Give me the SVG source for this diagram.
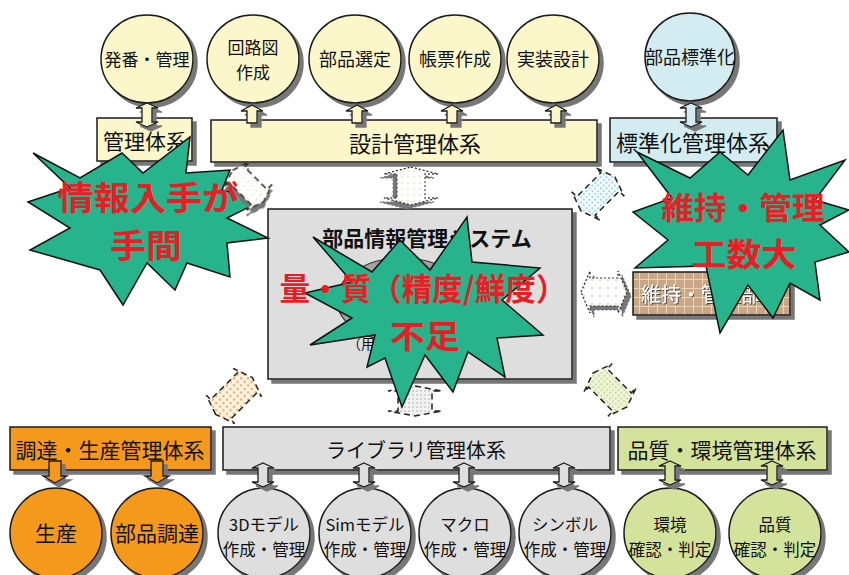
<svg xmlns="http://www.w3.org/2000/svg" width="849" height="575" viewBox="0 0 849 575">
<defs>
<style>
text{font-family:"Noto Sans CJK JP","Noto Sans",sans-serif;fill:#111;text-anchor:middle}
.nd{stroke:#1a1a1a;stroke-width:1.5}
.y{fill:#FBF7CB}.b{fill:#D2ECF2}.g{fill:#DEDEDE}.o{fill:#F5991F}.gr{fill:#D3E39C}
.star{fill:#27B38B;stroke:#111;stroke-width:1.5;stroke-linejoin:miter}
.red{fill:#EC1C24;font-weight:700}
.ar{stroke:#1a1a1a;stroke-width:1.3}
.da{stroke:#222;stroke-width:1.5;stroke-dasharray:6 4}
</style>
<filter id="sh" x="-20%" y="-20%" width="150%" height="150%"><feDropShadow dx="4" dy="4" stdDeviation="0.6" flood-color="#777" flood-opacity="1"/></filter>
<filter id="tsh" x="-5%" y="-20%" width="110%" height="150%"><feDropShadow dx="1" dy="1" stdDeviation="0.3" flood-color="#444" flood-opacity="1"/></filter>
<pattern id="pOr" width="5" height="5" patternUnits="userSpaceOnUse"><rect width="5" height="5" fill="#FFF6EA"/><circle cx="2.5" cy="2.5" r="1.2" fill="#F5A244"/></pattern>
<pattern id="pBl" width="4" height="4" patternUnits="userSpaceOnUse"><rect width="4" height="4" fill="#F4FBFD"/><circle cx="2" cy="2" r="1" fill="#8FCBE0"/></pattern>
<pattern id="pGy" width="4" height="4" patternUnits="userSpaceOnUse"><rect width="4" height="4" fill="#F2F2F2"/><circle cx="2" cy="2" r="1" fill="#C8C8C8"/></pattern>
<pattern id="pGn" width="4" height="4" patternUnits="userSpaceOnUse"><rect width="4" height="4" fill="#EEF5DA"/><circle cx="2" cy="2" r="1" fill="#BED68A"/></pattern>
<pattern id="pYw" width="6" height="6" patternUnits="userSpaceOnUse"><rect width="6" height="6" fill="#FFFFFF"/><circle cx="3" cy="3" r="1" fill="#F1E9B0"/></pattern>
<pattern id="pOr2" width="8" height="8" patternUnits="userSpaceOnUse"><rect width="8" height="8" fill="#FFFFFF"/><circle cx="4" cy="4" r="1.1" fill="#F8CFA0"/></pattern>
<pattern id="pBr" width="9" height="9" patternUnits="userSpaceOnUse"><rect width="9" height="9" fill="#C9A686"/><path d="M0,0.5H9M0.5,0V9" stroke="#EBD3B5" stroke-width="1"/></pattern>
<path id="dv" d="M0,-12 L11,-7 L5,-7 L5,7 L11,7 L0,12 L-11,7 L-5,7 L-5,-7 L-11,-7 Z"/>
<path id="up" d="M0,-9 L11,-3 L5,-3 L5,9 L-5,9 L-5,-3 L-11,-3 Z"/>
<path id="dn" d="M0,11 L12,4 L6,4 L6,-11 L-6,-11 L-6,4 L-12,4 Z"/>
</defs>
<rect width="849" height="575" fill="#FFFFFF"/>

<!-- top nodes -->
<g id="n-hatsuban"><ellipse class="nd y" cx="147" cy="59" rx="46" ry="44" filter="url(#sh)"/><text x="147" y="66" font-size="17">発番・管理</text></g>
<g id="n-kairozu"><ellipse class="nd y" cx="253" cy="59" rx="46" ry="44" filter="url(#sh)"/><text x="253" y="54" font-size="17">回路図</text><text x="253" y="79" font-size="17">作成</text></g>
<g id="n-sentei"><ellipse class="nd y" cx="355" cy="59" rx="46" ry="44" filter="url(#sh)"/><text x="355" y="66" font-size="18">部品選定</text></g>
<g id="n-chohyo"><ellipse class="nd y" cx="455" cy="59" rx="46" ry="44" filter="url(#sh)"/><text x="455" y="66" font-size="18">帳票作成</text></g>
<g id="n-jisso"><ellipse class="nd y" cx="553" cy="59" rx="46" ry="44" filter="url(#sh)"/><text x="553" y="66" font-size="18">実装設計</text></g>
<g id="n-hyojunka"><ellipse class="nd b" cx="690" cy="57" rx="45" ry="44" filter="url(#sh)"/><text x="690" y="64" font-size="18">部品標準化</text></g>

<g id="n-kanri-taikei"><rect class="nd y" x="97" y="118" width="95" height="43" filter="url(#sh)"/><text x="145" y="149" font-size="21">管理体系</text></g>
<g id="n-sekkei-taikei"><rect class="nd y" x="211" y="120" width="386" height="42" filter="url(#sh)"/><text x="415" y="152" font-size="22">設計管理体系</text></g>
<g id="n-hyojunka-taikei"><rect class="nd b" x="610" y="118" width="167" height="44" filter="url(#sh)"/><text x="693" y="151" font-size="22">標準化管理体系</text></g>

<!-- center -->
<g id="n-system"><rect class="nd g" x="268" y="209" width="304" height="170" filter="url(#sh)"/><text x="427" y="246" font-size="21" font-weight="700">部品情報管理システム</text><ellipse cx="402" cy="300" rx="65" ry="42" fill="#A3A3A3" stroke="#333" stroke-width="1.2"/><text x="361" y="349" font-size="14">（用</text></g>
<g id="n-iji"><rect class="nd" x="633" y="272" width="157" height="43" fill="url(#pBr)" filter="url(#sh)"/><text x="711" y="302" font-size="20" style="fill:#FFFFFF" filter="url(#tsh)">維持・管理部門</text></g>

<!-- bottom nodes -->
<g id="n-chotatsu-taikei"><rect class="nd o" x="10" y="427" width="201" height="43" filter="url(#sh)"/><text x="110" y="458" font-size="21">調達・生産管理体系</text></g>
<g id="n-library-taikei"><rect class="nd g" x="223" y="427" width="387" height="43" filter="url(#sh)"/><text x="416" y="458" font-size="20">ライブラリ管理体系</text></g>
<g id="n-hinshitsu-taikei"><rect class="nd gr" x="618" y="427" width="209" height="43" filter="url(#sh)"/><text x="722" y="458" font-size="21">品質・環境管理体系</text></g>

<g id="n-seisan"><ellipse class="nd o" cx="56" cy="533" rx="46" ry="45" filter="url(#sh)"/><text x="56" y="541" font-size="21">生産</text></g>
<g id="n-buhin-chotatsu"><ellipse class="nd o" cx="157" cy="533" rx="46" ry="45" filter="url(#sh)"/><text x="157" y="541" font-size="21">部品調達</text></g>
<g id="n-3d"><ellipse class="nd g" cx="264" cy="533" rx="46" ry="45" filter="url(#sh)"/><text x="264" y="531" font-size="16.5">3Dモデル</text><text x="264" y="556" font-size="16.5">作成・管理</text></g>
<g id="n-sim"><ellipse class="nd g" cx="365" cy="533" rx="46" ry="45" filter="url(#sh)"/><text x="365" y="531" font-size="16.5">Simモデル</text><text x="365" y="556" font-size="16.5">作成・管理</text></g>
<g id="n-macro"><ellipse class="nd g" cx="465" cy="533" rx="46" ry="45" filter="url(#sh)"/><text x="465" y="531" font-size="16.5">マクロ</text><text x="465" y="556" font-size="16.5">作成・管理</text></g>
<g id="n-symbol"><ellipse class="nd g" cx="565" cy="533" rx="46" ry="45" filter="url(#sh)"/><text x="565" y="531" font-size="16.5">シンボル</text><text x="565" y="556" font-size="16.5">作成・管理</text></g>
<g id="n-kankyo"><ellipse class="nd gr" cx="670" cy="533" rx="46" ry="45" filter="url(#sh)"/><text x="670" y="531" font-size="16.5">環境</text><text x="670" y="556" font-size="16.5">確認・判定</text></g>
<g id="n-hinshitsu"><ellipse class="nd gr" cx="775" cy="533" rx="46" ry="45" filter="url(#sh)"/><text x="775" y="531" font-size="16.5">品質</text><text x="775" y="556" font-size="16.5">確認・判定</text></g>

<!-- left callout shape -->
<g id="callout-left">
<polygon class="star" points="33,153 80,178 122,153 143,173 190,137 186,173 230,170 222,190 263,200 227,218 268,238 227,243 230,277 187,263 175,290 147,263 123,305 100,270 30,250 70,228 28,202 70,188"/>
</g>

<!-- connectors -->
<g id="connectors">
<use href="#dv" x="147" y="115" class="ar y" filter="url(#sh)"/>
<use href="#up" x="252" y="114" class="ar y" filter="url(#sh)"/>
<use href="#up" x="357" y="114" class="ar y" filter="url(#sh)"/>
<use href="#up" x="452" y="114" class="ar y" filter="url(#sh)"/>
<use href="#up" x="556" y="114" class="ar y" filter="url(#sh)"/>
<use href="#dv" x="691" y="115" class="ar b" filter="url(#sh)"/>
<use href="#dn" x="55" y="472" class="ar o" filter="url(#sh)"/>
<use href="#dn" x="157" y="472" class="ar o" filter="url(#sh)"/>
<use href="#dv" x="263" y="475" class="ar g" filter="url(#sh)"/>
<use href="#dv" x="364" y="475" class="ar g" filter="url(#sh)"/>
<use href="#dv" x="464" y="475" class="ar g" filter="url(#sh)"/>
<use href="#dv" x="564" y="475" class="ar g" filter="url(#sh)"/>
<use href="#dv" x="670" y="473" class="ar gr" filter="url(#sh)"/>
<use href="#dv" x="772" y="473" class="ar gr" filter="url(#sh)"/>
<path class="da" transform="translate(248,186) rotate(45)" fill="url(#pYw)" filter="url(#sh)" d="M-22,0 L-16,-18 L-16,-11 L16,-11 L16,-18 L22,0 L16,18 L16,11 L-16,11 L-16,18 Z"/>
<path class="da" style="stroke-dasharray:2 2;stroke-width:1.2" transform="translate(411,186) rotate(90)" fill="url(#pYw)" filter="url(#sh)" d="M-19,0 L-12,-27 L-12,-14 L12,-14 L12,-27 L19,0 L12,27 L12,14 L-12,14 L-12,27 Z"/>
<path class="da" transform="translate(598,194) rotate(-45)" fill="url(#pBl)" d="M-24,0 L-17,-20 L-17,-13 L17,-13 L17,-20 L24,0 L17,20 L17,13 L-17,13 L-17,20 Z"/>
<path class="da" style="stroke-dasharray:2 2;stroke-width:1.2" transform="translate(604,292)" fill="url(#pOr2)" filter="url(#sh)" d="M-23,0 L-14,-21 L-14,-14 L14,-14 L14,-21 L23,0 L14,21 L14,14 L-14,14 L-14,21 Z"/>
<path class="da" transform="translate(234,396) rotate(-45)" fill="url(#pOr)" d="M-26,0 L-19,-20 L-19,-14 L19,-14 L19,-20 L26,0 L19,20 L19,14 L-19,14 L-19,20 Z"/>
<path class="da" transform="translate(415,401) rotate(90)" fill="url(#pGy)" d="M-15,0 L-10,-27 L-10,-17 L10,-17 L10,-27 L15,0 L10,27 L10,17 L-10,17 L-10,27 Z"/>
<path class="da" transform="translate(610,390) rotate(45)" fill="url(#pGn)" d="M-24,0 L-17,-20 L-17,-13 L17,-13 L17,-20 L24,0 L17,20 L17,13 L-17,13 L-17,20 Z"/>
</g>

<g id="callout-left-text">
<text class="red" x="148" y="210" font-size="33" textLength="181" lengthAdjust="spacingAndGlyphs">情報入手が</text>
<text class="red" x="146" y="258" font-size="33" textLength="72" lengthAdjust="spacingAndGlyphs">手間</text>
</g>

<g id="callout-center">
<polygon class="star" points="313,237 372,272 400,240 430,270 467,217 472,262 540,268 502,300 543,335 497,338 505,377 468,352 453,392 425,355 402,407 385,358 367,367 375,335 310,345 352,318 305,293 352,282"/>
<text class="red" x="423" y="300" font-size="31" textLength="287" lengthAdjust="spacingAndGlyphs">量・質（精度/鮮度）</text>
<text class="red" x="425" y="348" font-size="32" textLength="70" lengthAdjust="spacingAndGlyphs">不足</text>
</g>

<g id="callout-right">
<polygon class="star" points="637,152 690,178 720,152 748,175 783,130 790,180 845,160 815,200 849,210 820,225 849,252 815,262 820,300 790,283 773,318 748,285 720,333 706,266 635,268 668,240 633,212 672,198"/>
<text class="red" x="743" y="219" font-size="31" textLength="163" lengthAdjust="spacingAndGlyphs">維持・管理</text>
<text class="red" x="744" y="266" font-size="32" textLength="105" lengthAdjust="spacingAndGlyphs">工数大</text>
</g>
</svg>
